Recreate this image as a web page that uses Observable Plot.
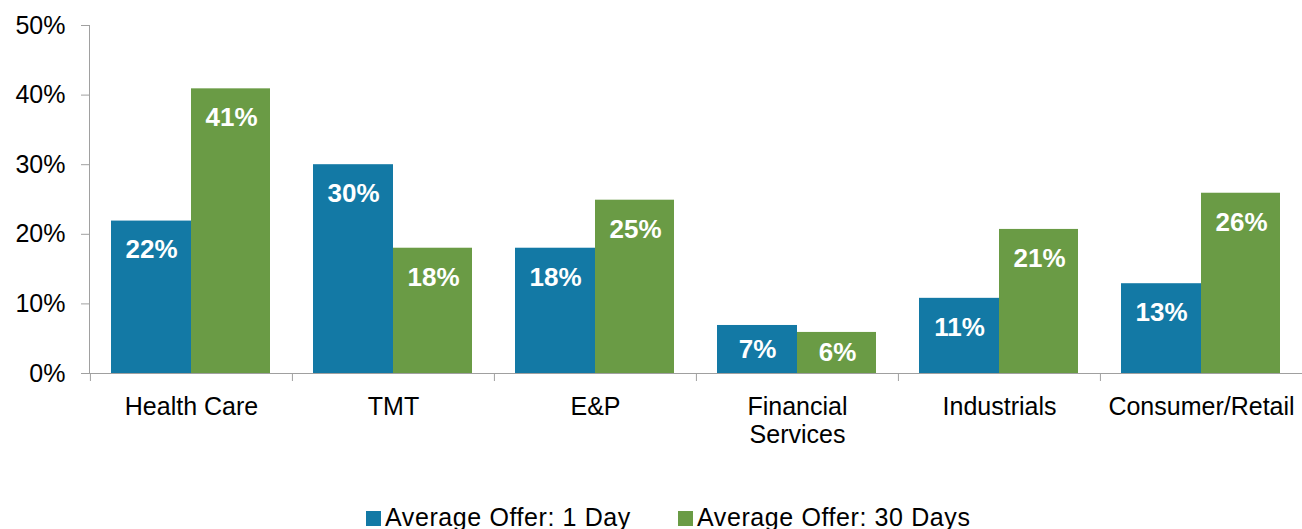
<!DOCTYPE html>
<html>
<head>
<meta charset="utf-8">
<script src="https://cdn.jsdelivr.net/npm/d3@7"></script>
<script src="https://cdn.jsdelivr.net/npm/@observablehq/plot@0.6"></script>
<style>
  html, body { margin: 0; padding: 0; background: #fff; }
  #wrap { position: relative; width: 1302px; height: 529px; overflow: hidden; font-family: "Liberation Sans", Arial, sans-serif; }
  .leg { position: absolute; top: 503px; font-size: 25px; line-height: 28px; white-space: nowrap; color: #000; letter-spacing: 0.6px; }
  .sw { display: inline-block; width: 15px; height: 15px; margin-right: 4px; }
</style>
</head>
<body>
<div id="wrap"></div>
<script>
const categories = ["Health Care", "TMT", "E&P", "Financial Services", "Industrials", "Consumer/Retail"];
const tickLabels = ["Health Care", "TMT", "E&P", "Financial\nServices", "Industrials", "Consumer/Retail"];
const oneDay = [0.219, 0.300, 0.180, 0.069, 0.108, 0.129];
const thirtyDays = [0.409, 0.180, 0.249, 0.059, 0.207, 0.259];
const seriesNames = ["Average Offer: 1 Day", "Average Offer: 30 Days"];
const seriesColors = ["#1379a5", "#6a9b45"];
const yTicks = [0, 0.1, 0.2, 0.3, 0.4, 0.5];

const rows1 = categories.map((c, i) => ({category: c, value: oneDay[i]}));
const rows2 = categories.map((c, i) => ({category: c, value: thirtyDays[i]}));
const fmt = d3.format(".0%");
const labelOf = new Map(categories.map((c, i) => [c, tickLabels[i]]));
const axisGray = "#a0a0a0";
const big = d => d.value >= 0.1;
const small = d => d.value < 0.1;
const labelStyle = {fill: "white", fontWeight: "bold", fontSize: 26};

const chart = Plot.plot({
  width: 1302,
  height: 490,
  marginLeft: 89,
  marginRight: 0,
  marginTop: 25,
  marginBottom: 117,
  style: {fontFamily: "Liberation Sans, Arial, sans-serif", fontSize: "25px", color: "#000", background: "#fff"},
  x: {domain: categories, padding: 0, label: null},
  y: {domain: [0, 0.5], label: null},
  marks: [
    Plot.barY(rows1, {x: "category", y: "value", fill: seriesColors[0], insetLeft: 21, insetRight: 101}),
    Plot.barY(rows2, {x: "category", y: "value", fill: seriesColors[1], insetLeft: 101, insetRight: 22}),
    Plot.ruleY([0], {stroke: axisGray}),
    Plot.frame({anchor: "left", stroke: axisGray}),
    Plot.ruleX(categories, {x: d => d, dx: -1213 / 12, y1: 0, y2: 0, insetBottom: -8, stroke: axisGray}),
    Plot.axisY({ticks: yTicks, tickFormat: fmt, tickSize: 8, tickPadding: 16, stroke: axisGray, fill: "#000", fontSize: 25, label: null}),
    Plot.axisX({tickSize: 0, tickPadding: 22, tickFormat: d => labelOf.get(d), lineHeight: 1.1, fill: "#000", fontSize: 25, label: null}),
    Plot.text(rows1.filter(big), {x: "category", y: "value", text: d => fmt(d.value), dx: -40, dy: 29, ...labelStyle}),
    Plot.text(rows2.filter(big), {x: "category", y: "value", text: d => fmt(d.value), dx: 40, dy: 29, ...labelStyle}),
    Plot.text(rows1.filter(small), {x: "category", y: d => d.value / 2, text: d => fmt(d.value), dx: -40, ...labelStyle}),
    Plot.text(rows2.filter(small), {x: "category", y: d => d.value / 2, text: d => fmt(d.value), dx: 40, ...labelStyle})
  ]
});

const wrap = document.getElementById("wrap");
wrap.appendChild(chart);
const legendLefts = [366, 678];
seriesNames.forEach((name, i) => {
  const item = document.createElement("div");
  item.className = "leg";
  item.style.left = legendLefts[i] + "px";
  const sw = document.createElement("span");
  sw.className = "sw";
  sw.style.background = seriesColors[i];
  item.appendChild(sw);
  item.appendChild(document.createTextNode(name));
  wrap.appendChild(item);
});
</script>
</body>
</html>
